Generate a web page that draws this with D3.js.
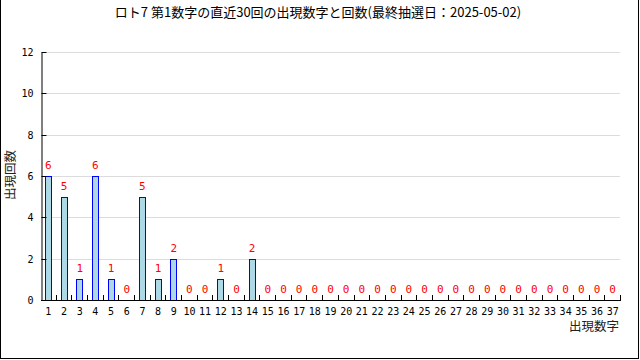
<!DOCTYPE html>
<html>
<head>
<meta charset="utf-8">
<script src="https://cdn.jsdelivr.net/npm/d3@7"></script>
<style>
  body { margin: 0; background: #fff; }
  svg { display: block; }
</style>
</head>
<body>
<svg id="chart" width="640" height="360"></svg>
<script>

// data
const title = 'ロト7 第1数字の直近30回の出現数字と回数(最終抽選日：2025-05-02)';
const numbers = d3.range(1, 38);
const counts = [6, 5, 1, 6, 1, 0, 5, 1, 2, 0, 0, 1, 0, 2,
  0, 0, 0, 0, 0, 0, 0, 0, 0, 0, 0, 0, 0, 0, 0, 0, 0, 0, 0, 0, 0, 0, 0];
const yTicks = [0, 2, 4, 6, 8, 10, 12];
const xLabel = '出現数字';
const yLabel = '出現回数';

const svg = d3.select('#chart');
const W = 640, H = 360;
const plotLeft = 41, plotRight = 620, plotTop = 52, plotBottom = 300;
const mono = '"DejaVu Sans Mono", monospace';
const jp = '"Noto Sans CJK JP", sans-serif';

// frame
svg.append('rect')
  .attr('x', 0.5).attr('y', -1)
  .attr('width', W - 2).attr('height', H - 0.5)
  .attr('fill', 'none').attr('stroke', '#000');

const xScale = d3.scaleBand()
  .domain(numbers)
  .range([40, plotRight]);

const yScale = d3.scaleLinear()
  .domain([0, 12])
  .range([plotBottom, plotTop]);

// grid
svg.append('g')
  .selectAll('line')
  .data(yTicks.filter(d => d > 0))
  .enter().append('line')
  .attr('x1', plotLeft).attr('x2', plotRight)
  .attr('y1', d => Math.round(yScale(d)) + 0.5)
  .attr('y2', d => Math.round(yScale(d)) + 0.5)
  .attr('stroke', '#dcdcdc');

// bars
const bw = 6;
svg.append('g')
  .selectAll('rect')
  .data(numbers.map((n, i) => [n, counts[i]]).filter(d => d[1] > 0))
  .enter().append('rect')
  .attr('x', d => Math.round(xScale(d[0]) + xScale.bandwidth() / 2 - bw / 2) + 0.5)
  .attr('y', d => Math.round(yScale(d[1])) + 0.5)
  .attr('width', bw)
  .attr('height', d => Math.round(plotBottom - yScale(d[1])))
  .attr('fill', '#add8e6')
  .attr('stroke', '#0000ff');

// value labels
svg.append('g')
  .selectAll('text')
  .data(numbers.map((n, i) => [n, counts[i]]))
  .enter().append('text')
  .attr('x', d => xScale(d[0]) + xScale.bandwidth() / 2 + 0.5)
  .attr('y', d => yScale(d[1]) - 7)
  .attr('text-anchor', 'middle')
  .attr('fill', '#ff0000')
  .style('font', `11px ${mono}`)
  .text(d => d[1]);

// y axis
const yAxis = svg.append('g')
  .attr('transform', `translate(${plotLeft + 0.5}, 0.5)`)
  .call(d3.axisLeft(yScale).tickValues(yTicks).tickSize(-5).tickSizeOuter(0).tickPadding(8));
yAxis.select('.domain').attr('stroke', '#000');
yAxis.selectAll('.tick line').attr('stroke', '#000');
yAxis.selectAll('text').style('font', `10px ${mono}`).attr('fill', '#000');
yAxis.selectAll('.tick').attr('transform', d => `translate(0,${Math.round(yScale(d))})`);

// x axis
const xg = svg.append('g');
xg.append('line')
  .attr('x1', plotLeft).attr('x2', plotRight + 1)
  .attr('y1', plotBottom + 0.5).attr('y2', plotBottom + 0.5)
  .attr('stroke', '#000');
xg.selectAll('line.tk')
  .data(numbers.slice(1).concat(['end']))
  .enter().append('line')
  .attr('class', 'tk')
  .attr('x1', d => d === 'end' ? plotRight + 0.5 : Math.round(xScale(d)) + 0.5)
  .attr('x2', d => d === 'end' ? plotRight + 0.5 : Math.round(xScale(d)) + 0.5)
  .attr('y1', plotBottom - 5).attr('y2', plotBottom)
  .attr('stroke', '#000');
xg.selectAll('text')
  .data(numbers)
  .enter().append('text')
  .attr('x', d => xScale(d) + xScale.bandwidth() / 2 + 0.5)
  .attr('y', plotBottom + 15)
  .attr('text-anchor', 'middle')
  .style('font', `10px ${mono}`)
  .text(d => d);

// axis titles
svg.append('text')
  .attr('x', plotRight - 1).attr('y', 331)
  .attr('text-anchor', 'end')
  .style('font', `12.5px ${jp}`)
  .attr('fill', '#222')
  .text(xLabel);

svg.append('text')
  .attr('transform', 'translate(15,175) rotate(-90)')
  .attr('text-anchor', 'middle')
  .style('font', `12.5px ${jp}`)
  .attr('fill', '#222')
  .text(yLabel);

// title
svg.append('text')
  .attr('x', 318).attr('y', 17)
  .attr('text-anchor', 'middle')
  .style('font', `13px ${jp}`)
  .text(title);

</script>
</body>
</html>
